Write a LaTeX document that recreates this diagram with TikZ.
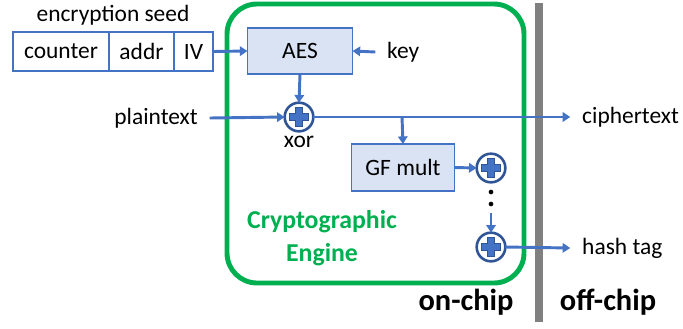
\documentclass[tikz,border=0pt]{standalone}
\usepackage{fontspec}
\setmainfont{Carlito}
\usetikzlibrary{arrows.meta}

\definecolor{arrblue}{HTML}{4472C4}
\definecolor{darkblue}{HTML}{2F5597}
\definecolor{boxfill}{HTML}{DAE3F3}
\definecolor{enggreen}{HTML}{00B050}
\definecolor{bargray}{HTML}{808080}

\tikzset{
    txt/.style={font=\fontsize{20}{24}\selectfont, inner sep=0pt},
    bigtxt/.style={font=\fontsize{26}{30}\selectfont\bfseries, inner sep=0pt},
    seedbox/.style={draw=arrblue, line width=1.1pt, fill=white, minimum height=1.17cm, inner sep=0pt, outer sep=0pt, font=\fontsize{20}{24}\selectfont},
    blockbox/.style={draw=arrblue, line width=1.1pt, fill=boxfill, inner sep=0pt, outer sep=0pt, font=\fontsize{20}{24}\selectfont},
    arr/.style={draw=arrblue, line width=2.5pt, -{Triangle[length=6.5pt, width=8pt]}},
    xorcirc/.style={shape=circle, draw=darkblue, line width=2.2pt, fill=white, minimum size=0.86cm, inner sep=0pt, outer sep=0pt,
        path picture={
            \filldraw[fill=arrblue, draw=darkblue, line width=0.6pt]
                ([shift={(-0.11cm,-0.29cm)}]path picture bounding box.center) -- ++(0.22cm,0) -- ++(0,0.18cm) -- ++(0.18cm,0)
                -- ++(0,0.22cm) -- ++(-0.18cm,0) -- ++(0,0.18cm) -- ++(-0.22cm,0) -- ++(0,-0.18cm) -- ++(-0.18cm,0)
                -- ++(0,-0.22cm) -- ++(0.18cm,0) -- cycle;
        }},
    dotnode/.style={shape=circle, fill=black, minimum size=4pt, inner sep=0pt}
}

\begin{document}
\begin{tikzpicture}[x=0.03cm, y=-0.03cm]
    \useasboundingbox (0,0) rectangle (683,328);

    % chip boundary and engine frame
    \fill[bargray] (535,3) rectangle (543,322);
    \draw[enggreen, line width=4.2pt, rounded corners=0.9cm] (227,4) rectangle (524,283);

    % encryption seed
    \node[txt] (seed) at (113,15) {encryption seed};
    \node[seedbox, minimum width=2.88cm] (counter) at (61,51.5) {counter};
    \node[seedbox, minimum width=1.95cm] (addr) at (141.5,51.5) {addr};
    \node[seedbox, minimum width=1.17cm] (iv) at (193.5,51.5) {IV};

    % blocks
    \node[blockbox, minimum width=3.15cm, minimum height=1.38cm] (aes) at (300,51) {AES};
    \node[blockbox, minimum width=3.09cm, minimum height=1.41cm] (gf) at (403,167.5) {GF mult};
    \node[xorcirc] (xor1) at (299,117) {};
    \node[xorcirc] (xor2) at (491,168) {};
    \node[xorcirc] (xor3) at (491,247) {};
    \node[dotnode] (dotA) at (491,192) {};
    \node[dotnode] (dotB) at (491,204) {};
    \coordinate (dotend) at (491,213);
    \coordinate (branch) at (402,117);

    % labels
    \node[txt, anchor=west] (key) at (387,52) {key};
    \node[txt] (xorlbl) at (299,142) {xor};
    \node[txt, anchor=east] (plain) at (198,118) {plaintext};
    \node[txt, anchor=west] (cipher) at (582,117) {ciphertext};
    \node[txt, anchor=west] (hash) at (582,248) {hash tag};
    \node[font=\fontsize{22}{26}\selectfont\bfseries, text=enggreen, align=center, inner sep=0pt] (engine) at (322,238)
        {Cryptographic\\[2pt]Engine};
    \node[bigtxt] (onchip) at (466,302) {on-chip};
    \node[bigtxt] (offchip) at (608,302) {off-chip};

    % connectors
    \draw[arr] (iv.east) -- (aes.west);
    \draw[arr] ([xshift=-10pt]key.west) -- (aes.east);
    \draw[arr] (aes.south) -- (xor1.north);
    \draw[arr] ([xshift=10pt]plain.east) -- (xor1.west);
    \draw[arr] (xor1.east) -- ([xshift=-10pt]cipher.west);
    \draw[arr] (branch) -- (gf.north);
    \draw[arr] (gf.east) -- (xor2.west);
    \draw[arr] (dotend) -- (xor3.north);
    \draw[arr] (xor3.east) -- ([xshift=-10pt]hash.west);
\end{tikzpicture}
\end{document}
